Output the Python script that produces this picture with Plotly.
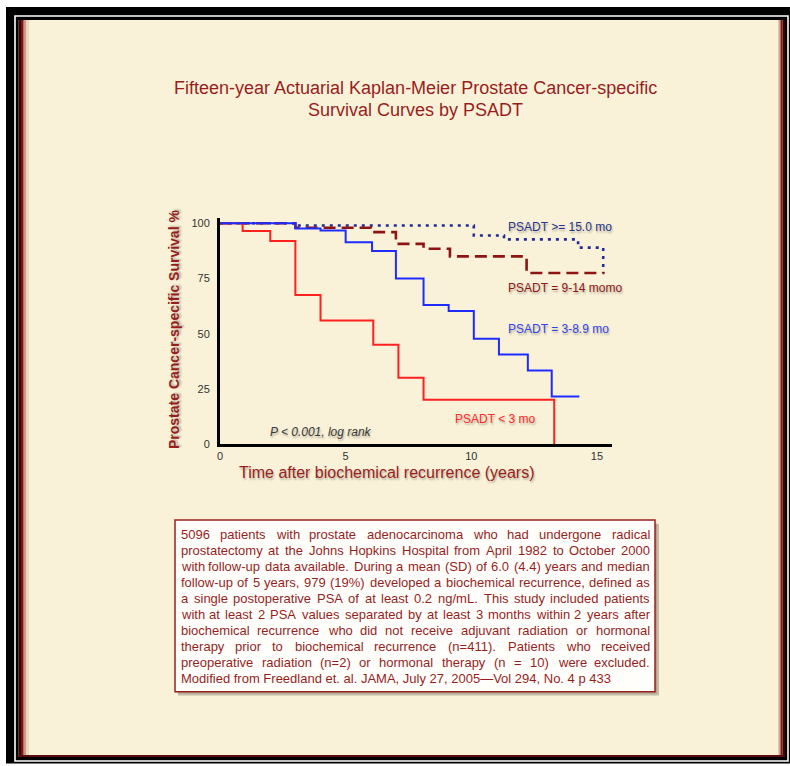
import plotly.graph_objects as go

# ---------------- data ----------------
time_lt3 = [0, 0.9, 2.0, 3.0, 4.0, 6.1, 7.1, 8.1, 13.3]
surv_lt3 = [100, 96.5, 92, 67.5, 56, 45, 30, 20, 0]

time_3_9 = [0, 3.0, 4.0, 5.0, 6.05, 7.0, 8.1, 9.1, 10.1, 11.1, 12.25, 13.2, 14.3]
surv_3_9 = [100, 97.7, 96.7, 91.4, 87.4, 75, 63, 60.3, 47.7, 40.6, 33.3, 21.5, 21.5]

time_9_14 = [0, 3.0, 6.0, 7.0, 8.1, 9.15, 12.2, 15.3]
surv_9_14 = [100, 98, 96, 90.7, 88.5, 85, 77.5, 77.5]

time_ge15 = [0, 3.0, 10.1, 11.3, 14.25, 15.25]
surv_ge15 = [100, 99, 94.5, 92.7, 89, 77.5]

series_names = ["PSADT < 3 mo", "PSADT = 3-8.9 mo", "PSADT = 9-14 momo", "PSADT >= 15.0 mo"]
x_tick_vals = [0, 5, 10, 15]
y_tick_vals = [0, 25, 50, 75, 100]

title_lines = ["Fifteen-year Actuarial Kaplan-Meier Prostate Cancer-specific",
               "Survival Curves by PSADT"]
x_title = "Time after biochemical recurrence (years)"
y_title = "Prostate Cancer-specific Survival %"
p_text = "P < 0.001, log rank"
note_lines = [
    "5096 patients with prostate adenocarcinoma who had undergone radical",
    "prostatectomy at the Johns Hopkins Hospital from April 1982 to October 2000",
    "with follow-up data available.  During a mean (SD) of 6.0 (4.4) years and median",
    "follow-up of 5 years, 979 (19%) developed a biochemical recurrence, defined as",
    "a single postoperative PSA of at least 0.2 ng/mL. This study included patients",
    "with at least 2 PSA values separated by at least 3 months within 2 years after",
    "biochemical recurrence who did not receive adjuvant radiation or hormonal",
    "therapy prior to biochemical recurrence (n=411). Patients who received",
    "preoperative radiation (n=2) or hormonal therapy (n = 10) were excluded.",
    "Modified from Freedland et. al. JAMA, July 27, 2005\u2014Vol 294, No. 4 p 433",
]

# ---------------- geometry ----------------
W, H = 790, 766
L, R, T, B = 220, 178, 218, 322
PW = W - L - R
PH = H - T - B
BOTTOM = H - B

def px(x):
    return (x - L) / PW

def py(y):
    return (BOTTOM - y) / PH

FONT = "Liberation Sans, Arial, Helvetica, sans-serif"
DARKRED = "#981e1e"
CREAM = "#faf2d8"
SHADOW = "1px 2px 2px rgba(0,0,0,0.28)"

fig = go.Figure()

# curves (draw order: dotted, dashed, red, blue)
fig.add_trace(go.Scatter(x=time_ge15, y=surv_ge15, mode="lines", line_shape="hv",
                         name=series_names[3],
                         line=dict(color="#1f2c9a", width=2.6, dash="3px,5px")))
fig.add_trace(go.Scatter(x=time_9_14, y=surv_9_14, mode="lines", line_shape="hv",
                         name=series_names[2],
                         line=dict(color="#8e1414", width=2.6, dash="12px,6px")))
fig.add_trace(go.Scatter(x=time_lt3, y=surv_lt3, mode="lines", line_shape="hv",
                         name=series_names[0],
                         line=dict(color="#ff2020", width=2)))
fig.add_trace(go.Scatter(x=time_3_9, y=surv_3_9, mode="lines", line_shape="hv",
                         name=series_names[1],
                         line=dict(color="#1e2cff", width=2)))

shapes = []

def rect(x0, y0, x1, y1, fill=None, line_color=None, line_width=0, layer="below"):
    d = dict(type="rect", xref="paper", yref="paper",
             x0=px(x0), x1=px(x1), y0=py(y1), y1=py(y0), layer=layer,
             line=dict(width=line_width, color=line_color or "rgba(0,0,0,0)"))
    if fill:
        d["fillcolor"] = fill
    shapes.append(d)

# outer frame
rect(6, 7, 790, 763.5, fill="#000000")
rect(15, 16, 788, 761, line_color="#ffffff", line_width=1.6)
rect(18.5, 20, 785, 757, fill=CREAM)
# dark red bevel edges
rect(18.5, 20, 21, 757, fill="#3d0303")
rect(21, 20, 23.5, 757, fill="#7a1414")
rect(23.5, 20, 26, 757, fill="rgba(150,45,35,0.45)")
rect(26, 20, 29, 757, fill="rgba(160,70,50,0.15)")
rect(782.5, 20, 785, 757, fill="#3d0303")
rect(780.5, 20, 782.5, 757, fill="#7a1414")
rect(778.5, 20, 780.5, 757, fill="rgba(150,45,35,0.4)")
rect(18.5, 755, 785, 757, fill="#5a0c0c")

# note box
rect(178, 524, 659, 695.5, fill="rgba(0,0,0,0.22)")
rect(176.5, 522, 657, 693.5, fill="rgba(0,0,0,0.12)")
rect(175, 520, 655, 691.7, fill="#fffefb", line_color="#9b2020", line_width=1.5)

annotations = []

# title
for i, t in enumerate(title_lines):
    annotations.append(dict(xref="paper", yref="paper", x=px(415), y=py(88 + 22 * i),
                            text=t, showarrow=False, xanchor="center", yanchor="middle",
                            font=dict(family=FONT, size=18, color=DARKRED)))

# axis titles
annotations.append(dict(xref="paper", yref="paper", x=px(387), y=py(472),
                        text=x_title, showarrow=False, xanchor="center", yanchor="middle",
                        font=dict(family=FONT, size=16, color=DARKRED, shadow=SHADOW)))
annotations.append(dict(xref="paper", yref="paper", x=px(174), y=py(330),
                        text="<b>" + y_title + "</b>", showarrow=False, textangle=-90,
                        xanchor="center", yanchor="middle",
                        font=dict(family=FONT, size=14, color=DARKRED, shadow=SHADOW)))

# curve labels
label_specs = [
    (series_names[3], 508.3, 227, "#27358f"),
    (series_names[2], 508.3, 288, "#8e1818"),
    (series_names[1], 508.3, 328.5, "#3344ee"),
    (series_names[0], 455, 419, "#ff2a2a"),
]
for txt, xp, yp, col in label_specs:
    annotations.append(dict(xref="paper", yref="paper", x=px(xp), y=py(yp), text=txt,
                            showarrow=False, xanchor="left", yanchor="middle",
                            borderpad=0, borderwidth=0,
                            font=dict(family=FONT, size=12, color=col, shadow=SHADOW)))

annotations.append(dict(xref="paper", yref="paper", x=px(270), y=py(431.5),
                        text="<i>" + p_text + "</i>", showarrow=False,
                        xanchor="left", yanchor="middle", borderpad=0, borderwidth=0,
                        font=dict(family=FONT, size=12, color="#3a3a3a", shadow=SHADOW)))

# justified note text
HW = {' ': 278, '%': 889, "'": 191, '(': 333, ')': 333, ',': 278, '-': 333, '.': 278,
      '/': 278, ':': 278, ';': 278, '<': 584, '=': 584, '>': 584, '\u2014': 1000,
      'A': 667, 'B': 667, 'C': 722, 'D': 722, 'E': 667, 'F': 611, 'G': 778, 'H': 722,
      'I': 278, 'J': 500, 'K': 667, 'L': 556, 'M': 833, 'N': 722, 'O': 778, 'P': 667,
      'Q': 778, 'R': 722, 'S': 667, 'T': 611, 'U': 722, 'V': 667, 'W': 944, 'X': 667,
      'Y': 667, 'Z': 611, 'a': 556, 'b': 556, 'c': 500, 'd': 556, 'e': 556, 'f': 278,
      'g': 556, 'h': 556, 'i': 222, 'j': 222, 'k': 500, 'l': 222, 'm': 833, 'n': 556,
      'o': 556, 'p': 556, 'q': 556, 'r': 333, 's': 500, 't': 278, 'u': 556, 'v': 500,
      'w': 722, 'x': 500, 'y': 500, 'z': 500}

def text_w(s, size):
    return sum(HW.get(c, 556) for c in s) * size / 1000.0

NOTE_SIZE = 13
NX0, NX1 = 180.7, 650.0
for i, line in enumerate(note_lines):
    yl = 534 + 16 * i
    if i == len(note_lines) - 1:
        annotations.append(dict(xref="paper", yref="paper", x=px(NX0), y=py(yl), text=line,
                                showarrow=False, xanchor="left", yanchor="middle",
                                borderpad=0, borderwidth=0,
                                font=dict(family=FONT, size=NOTE_SIZE, color=DARKRED)))
        continue
    words = line.split()
    widths = [text_w(w, NOTE_SIZE) for w in words]
    gap = (NX1 - NX0 - sum(widths)) / (len(words) - 1)
    xcur = NX0
    for w, wd in zip(words, widths):
        annotations.append(dict(xref="paper", yref="paper", x=px(xcur), y=py(yl), text=w,
                                showarrow=False, xanchor="left", yanchor="middle",
                                borderpad=0, borderwidth=0,
                                font=dict(family=FONT, size=NOTE_SIZE, color=DARKRED)))
        xcur += wd + gap

fig.update_layout(
    width=W, height=H,
    margin=dict(l=L, r=R, t=T, b=B, pad=0),
    paper_bgcolor="#ffffff",
    plot_bgcolor="rgba(0,0,0,0)",
    showlegend=False,
    shapes=shapes,
    annotations=annotations,
    font=dict(family=FONT),
    xaxis=dict(range=[0, PW / 25.13], showgrid=False, zeroline=False,
               showline=True, linecolor="#000000", linewidth=3,
               tickvals=x_tick_vals, ticks="", ticklabelstandoff=0,
               tickfont=dict(family=FONT, size=11, color="#333333")),
    yaxis=dict(range=[0, PH / 2.207], showgrid=False, zeroline=False,
               showline=True, linecolor="#000000", linewidth=3,
               tickvals=y_tick_vals, ticks="", ticklabelstandoff=5,
               tickfont=dict(family=FONT, size=11, color="#333333")),
)

fig.write_html("out.html", config={"displayModeBar": False},
               post_script="document.body.style.margin='0';")
